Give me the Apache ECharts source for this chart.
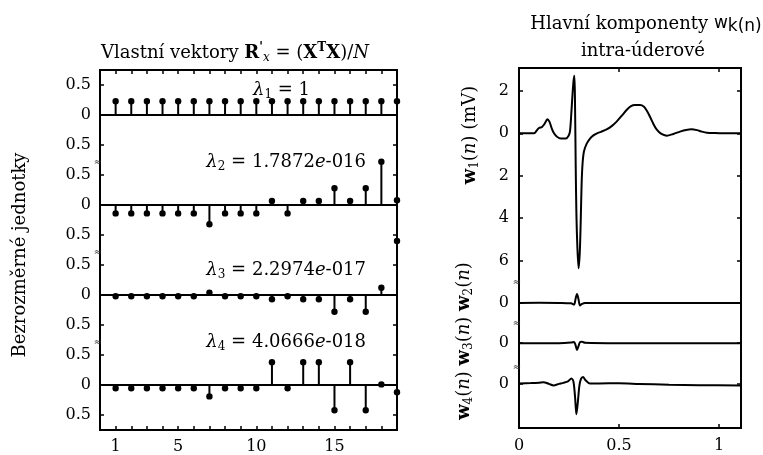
<!DOCTYPE html>
<html><head><meta charset="utf-8">
<script src="https://cdn.jsdelivr.net/npm/echarts@6/dist/echarts.min.js"></script>
<style>html,body{margin:0;padding:0;background:#fff}#c{width:763px;height:455px}</style>
</head><body><div id="c"></div>
<script>
// ---------- data ----------
const stemIdx = [1,2,3,4,5,6,7,8,9,10,11,12,13,14,15,16,17,18,19];
const ev1 = [0.229,0.229,0.229,0.229,0.229,0.229,0.229,0.229,0.229,0.229,0.229,0.229,0.229,0.229,0.229,0.229,0.229,0.229,0.229];
const ev2 = [-0.14,-0.14,-0.14,-0.14,-0.14,-0.14,-0.32,-0.14,-0.14,-0.14,0.067,-0.14,0.067,0.067,0.28,0.067,0.28,0.72,0.08];
const ev3 = [-0.02,-0.02,-0.02,-0.02,-0.02,-0.02,0.04,-0.02,-0.02,-0.02,-0.07,-0.02,-0.07,-0.07,-0.28,-0.07,-0.28,0.12,0.9];
const ev4 = [-0.055,-0.055,-0.055,-0.055,-0.055,-0.055,-0.19,-0.055,-0.055,-0.055,0.38,-0.055,0.38,0.38,-0.42,0.38,-0.42,0.01,-0.12];
const lambdaLabels = ['1','1.7872e-016','2.2974e-017','4.0666e-018'];
const stemXTicks = [1,5,10,15];
const stemYTicks = [-0.5,0,0.5];

const w1T = [0,0.04,0.075,0.09,0.1,0.115,0.128,0.142,0.152,0.163,0.175,0.19,0.21,0.235,0.248,0.255,0.262,0.268,0.273,0.277,0.280,0.2835,0.287,0.292,0.298,0.304,0.309,0.313,0.318,0.325,0.338,0.355,0.372,0.39,0.41,0.438,0.465,0.488,0.513,0.538,0.56,0.58,0.605,0.625,0.64,0.655,0.672,0.688,0.71,0.738,0.772,0.805,0.835,0.863,0.89,0.915,0.94,0.98,1.02,1.07,1.11];
const w1V = [0,0,0,0.15,0.25,0.3,0.45,0.66,0.55,0.25,0.0,-0.16,-0.24,-0.24,-0.12,0.1,1.0,1.9,2.5,2.72,1.5,-1.5,-3.8,-5.4,-6.37,-5.6,-4.0,-2.4,-1.4,-0.85,-0.5,-0.25,-0.1,0.0,0.07,0.18,0.35,0.55,0.82,1.1,1.28,1.33,1.33,1.25,1.05,0.78,0.44,0.18,-0.02,-0.11,-0.03,0.08,0.16,0.19,0.15,0.08,0.03,0.01,0,0,0];
const w2T = [0,0.1,0.2,0.26,0.275,0.283,0.29,0.298,0.305,0.315,0.33,0.5,0.7,0.9,1.11];
const w2V = [0,0.01,0,-0.02,-0.08,0.2,0.42,0.15,-0.12,-0.05,0,0,-0.01,0,0];
const w3T = [0,0.2,0.26,0.275,0.283,0.29,0.297,0.305,0.315,0.33,0.5,1.11];
const w3V = [0,0,0.03,0.06,-0.1,-0.32,-0.15,0.05,0.07,0.02,0,0];
const w4T = [0,0.06,0.1,0.122,0.15,0.172,0.2,0.222,0.245,0.262,0.272,0.28,0.287,0.294,0.302,0.31,0.32,0.333,0.355,0.4,0.5,0.6,0.75,0.9,1.11];
const w4V = [0,0.02,0.04,0.06,-0.02,-0.09,-0.02,0.03,0.1,0.24,0.1,-0.6,-1.45,-0.9,-0.1,0.22,0.31,0.15,0,0,0.01,-0.02,-0.06,-0.08,-0.1];
const ecgYTicks = [2,0,-2,-4,-6];
const ecgXTicks = [0,0.5,1];

// ---------- layout ----------
const FONT = 'DejaVu Serif';
const FS = 16;   // tick labels
const TS = 18;   // other text
const offsets = [-8.0,-9.9,-11.8];
const chart = echarts.init(document.getElementById('c'));
const grid = [], xAxis = [], yAxis = [], series = [];
const lbl = {color:'#000', fontFamily:FONT, fontSize:FS};
const tickStyle = {color:'#000', width:1.5};

[ev1,ev2,ev3,ev4].forEach((ev,k)=>{
  grid.push({left:100, width:297, top:70+90*k, height:90});
  xAxis.push({gridIndex:k, type:'value', min:0, max:19,
    axisLine:{show:true, onZero:true, lineStyle:{color:'#000', width:2}},
    axisTick:{show:false}, axisLabel:{show:false}, splitLine:{show:false}});
  yAxis.push({gridIndex:k, type:'value', min:-0.75, max:0.75,
    axisLine:{show:false, onZero:false},
    axisTick:{show:true, inside:true, length:4, customValues:[-0.5,0.5], lineStyle:tickStyle},
    axisLabel:Object.assign({customValues:stemYTicks, margin:9, formatter:v=>String(Math.abs(v))}, lbl),
    splitLine:{show:false}});
  yAxis.push({gridIndex:k, type:'value', position:'right', min:-0.75, max:0.75,
    axisLine:{show:false, onZero:false},
    axisTick:{show:true, inside:true, length:4, customValues:[-0.5,0.5], lineStyle:tickStyle},
    axisLabel:{show:false}, splitLine:{show:false}});
  series.push({type:'custom', xAxisIndex:k, yAxisIndex:2*k, clip:false, z:5,
    data: stemIdx.map((x,i)=>[x, ev[i]]),
    renderItem:(params, api)=>{
      const x = api.value(0), v = api.value(1);
      const p0 = api.coord([x,0]), p1 = api.coord([x,v]);
      return {type:'group', children:[
        {type:'line', shape:{x1:p0[0],y1:p0[1],x2:p1[0],y2:p1[1]}, style:{stroke:'#000', lineWidth:2}},
        {type:'circle', shape:{cx:p1[0], cy:p1[1], r:3.2}, style:{fill:'#000'}}
      ]};
    }});
});
// frame grid for left panel (index 4)
grid.push({left:100, width:297, top:70, height:360, show:true, borderColor:'#000', borderWidth:2, backgroundColor:'transparent'});
xAxis.push({gridIndex:4, type:'value', min:0, max:19, position:'bottom',
  axisLine:{show:false, onZero:false}, splitLine:{show:false},
  axisTick:{show:true, inside:true, length:4, customValues:stemIdx, lineStyle:tickStyle},
  axisLabel:Object.assign({customValues:stemXTicks, margin:9}, lbl)});
xAxis.push({gridIndex:4, type:'value', min:0, max:19, position:'top',
  axisLine:{show:false, onZero:false}, splitLine:{show:false},
  axisTick:{show:true, inside:true, length:4, customValues:stemIdx, lineStyle:tickStyle},
  axisLabel:{show:false}});
yAxis.push({gridIndex:4, type:'value', min:0, max:1, show:false, axisLine:{onZero:false}});

// right panel (grid 5)
grid.push({left:519, width:222, top:68, height:360, show:true, borderColor:'#000', borderWidth:2, backgroundColor:'transparent'});
xAxis.push({gridIndex:5, type:'value', min:0, max:1.11, position:'bottom',
  axisLine:{show:false, onZero:false}, splitLine:{show:false},
  axisTick:{show:true, inside:true, length:4, customValues:[0.5,1], lineStyle:tickStyle},
  axisLabel:Object.assign({customValues:ecgXTicks, margin:10, formatter:v=>String(v)}, lbl)});
xAxis.push({gridIndex:5, type:'value', min:0, max:1.11, position:'top',
  axisLine:{show:false, onZero:false}, splitLine:{show:false},
  axisTick:{show:true, inside:true, length:4, customValues:[0.5,1], lineStyle:tickStyle},
  axisLabel:{show:false}});
const rTicks = ecgYTicks.concat(offsets);
yAxis.push({gridIndex:5, type:'value', min:-13.9, max:3.08,
  axisLine:{show:false, onZero:false}, splitLine:{show:false},
  axisTick:{show:true, inside:true, length:4, customValues:rTicks, lineStyle:tickStyle},
  axisLabel:Object.assign({customValues:rTicks, margin:10, formatter:v=> v < -7 ? '0' : String(Math.abs(v))}, lbl)});
yAxis.push({gridIndex:5, type:'value', position:'right', min:-13.9, max:3.08,
  axisLine:{show:false, onZero:false}, splitLine:{show:false},
  axisTick:{show:true, inside:true, length:4, customValues:rTicks, lineStyle:tickStyle},
  axisLabel:{show:false}});
const xi = xAxis.length - 2, yi = yAxis.length - 2;
const lineS = (T,V,off)=>({type:'line', xAxisIndex:xi, yAxisIndex:yi, showSymbol:false, smooth:0.3, z:5,
  lineStyle:{color:'#000', width:2}, data:T.map((t,i)=>[t, V[i]+off])});
series.push(lineS(w1T,w1V,0));
series.push(lineS(w2T,w2V,offsets[0]));
series.push(lineS(w3T,w3V,offsets[1]));
series.push(lineS(w4T,w4V,offsets[2]));

// ---------- texts ----------
const R = {
  n:{fontFamily:FONT, fontSize:TS, lineHeight:22, verticalAlign:'middle'},
  i:{fontFamily:FONT, fontSize:TS, fontStyle:'italic', lineHeight:22, verticalAlign:'middle'},
  b:{fontFamily:FONT, fontSize:TS, fontWeight:'bold', lineHeight:22, verticalAlign:'middle'},
  sub:{fontFamily:FONT, fontSize:12, lineHeight:12, verticalAlign:'bottom'},
  subi:{fontFamily:FONT, fontSize:12, fontStyle:'italic', lineHeight:12, verticalAlign:'bottom'},
  sup:{fontFamily:FONT, fontSize:12, fontWeight:'bold', lineHeight:12, verticalAlign:'top'},
  sw:{fontFamily:'DejaVu Sans', fontSize:17, lineHeight:22, verticalAlign:'middle'},
  sk:{fontFamily:'DejaVu Sans', fontSize:17, lineHeight:18, verticalAlign:'bottom'}
};
function T(x,y,text,align,rot){
  const g = {type:'text', x:x, y:y, z:100, style:{text:text, rich:R, fill:'#000', align:align||'left', verticalAlign:'middle', fontFamily:FONT, fontSize:TS}};
  if (rot) g.rotation = rot;
  return g;
}
const sci = s => s.replace('e','}{i|e}{n|');
const graphic = [
  T(235,53,'{n|Vlastní vektory }{b|R}{sup|\'}{subi|x}{n| = (}{b|X}{sup|T}{b|X}{n|)/}{i|N}','center'),
  T(253,90,'{i|λ}{sub|1}{n| = '+lambdaLabels[0]+'}'),
  T(366,162,'{i|λ}{sub|2}{n| = '+sci(lambdaLabels[1])+'}','right'),
  T(366,270,'{i|λ}{sub|3}{n| = '+sci(lambdaLabels[2])+'}','right'),
  T(366,342,'{i|λ}{sub|4}{n| = '+sci(lambdaLabels[3])+'}','right'),
  T(20,255,'{n|Bezrozměrné jednotky}','center',Math.PI/2),
  T(646,24,'{n|Hlavní komponenty }{sw|w}{sk|k(n)}','center'),
  T(643,51,'{n|intra-úderové}','center'),
  T(470,135,'{b|w}{sub|1}{n|(}{i|n}{n|) (mV)}','center',Math.PI/2),
  T(464,341,'{b|w}{sub|4}{n|(}{i|n}{n|) }{b|w}{sub|3}{n|(}{i|n}{n|) }{b|w}{sub|2}{n|(}{i|n}{n|)}','center',Math.PI/2)
];
[162,252,342].forEach(y=>graphic.push({type:'text', x:98, y:y, z:100, style:{text:'≈', fill:'#333', fontSize:10, fontFamily:'DejaVu Sans', align:'center', verticalAlign:'middle'}}));
[282,323,367].forEach(y=>graphic.push({type:'text', x:517, y:y, z:100, style:{text:'≈', fill:'#333', fontSize:10, fontFamily:'DejaVu Sans', align:'center', verticalAlign:'middle'}}));

chart.setOption({animation:false, backgroundColor:'#fff', grid, xAxis, yAxis, series, graphic});
</script></body></html>
